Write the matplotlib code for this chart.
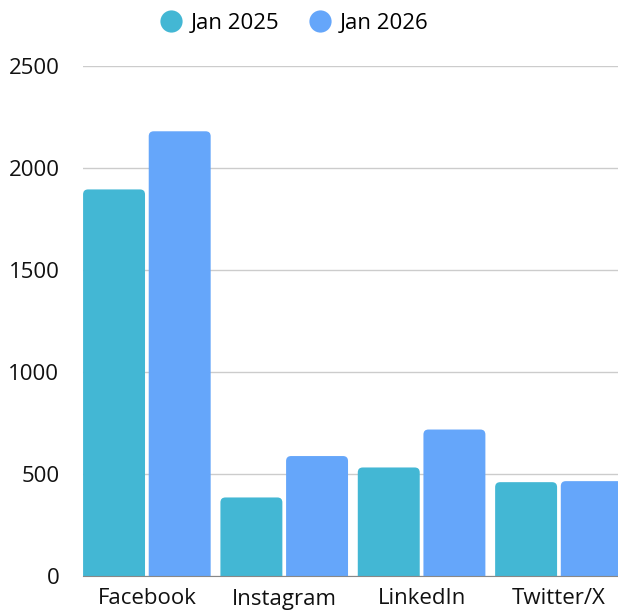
import matplotlib.pyplot as plt
import numpy as np
from matplotlib.lines import Line2D
from matplotlib.patches import FancyBboxPatch

plt.rcParams["font.family"] = ["Open Sans", "DejaVu Sans"]

platforms = ["Facebook", "Instagram", "LinkedIn", "Twitter/X"]
jan_2025 = [1895, 385, 532, 460]
jan_2026 = [2180, 588, 718, 465]
series_labels = ["Jan 2025", "Jan 2026"]
colors = ["#43b7d4", "#65a6fa"]

fig = plt.figure(figsize=(6.18, 6.16), dpi=100)
ax = fig.add_axes([83 / 618, 40 / 616, 535 / 618, 510 / 616])

x = np.arange(len(platforms))
width = 0.451
offset = 0.239

bars_a = ax.bar(x - offset, jan_2025, width, color=colors[0])
bars_b = ax.bar(x + offset, jan_2026, width, color=colors[1])

# swap plain bars for rounded ones
px_x = 137.5
px_y = 510 / 2500
radius_px = 5
rs = radius_px / px_x
aspect = (radius_px / px_y) / rs
for bar in list(bars_a) + list(bars_b):
    x0, h, w = bar.get_x(), bar.get_height(), bar.get_width()
    bar.set_visible(False)
    ax.add_patch(FancyBboxPatch(
        (x0, -40), w, h + 40,
        boxstyle=f"round,pad=0,rounding_size={rs}",
        mutation_aspect=aspect,
        facecolor=bar.get_facecolor(), edgecolor="none", zorder=2,
    ))

ax.set_xlim(-0.465, 3.43)
ax.set_ylim(0, 2500)
ax.set_yticks([0, 500, 1000, 1500, 2000, 2500])
ax.set_xticks(x)
ax.set_xticklabels(platforms)
ax.tick_params(axis="both", length=0, labelsize=16, colors="#111111")
ax.tick_params(axis="y", pad=17)
ax.tick_params(axis="x", pad=9)

ax.grid(axis="y", color="#cccccc", linewidth=1)
ax.set_axisbelow(True)
for side in ["top", "right", "left"]:
    ax.spines[side].set_visible(False)
ax.spines["bottom"].set_color("#888888")
ax.spines["bottom"].set_zorder(3)

handles = [
    Line2D([], [], marker="o", linestyle="none", markersize=16,
           markerfacecolor=c, markeredgecolor="none")
    for c in colors
]
fig.legend(handles, series_labels, loc="center", bbox_to_anchor=(0.476, 0.962),
           ncol=2, frameon=False, fontsize=16, handletextpad=0.4,
           columnspacing=1.3, handlelength=1.0)

plt.savefig("out.png", dpi=100)
